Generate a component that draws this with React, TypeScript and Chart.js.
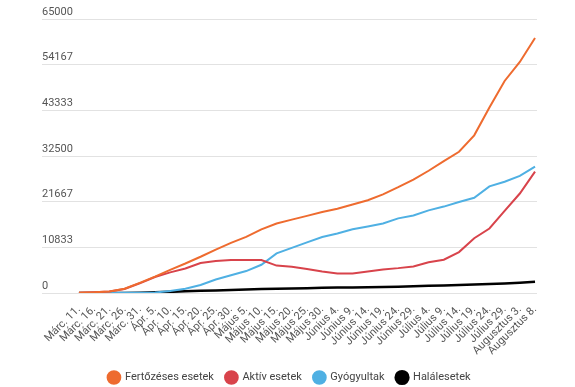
import React, { useEffect, useRef } from "react";
import { Chart, registerables } from "chart.js";

Chart.register(...registerables);

const dateLabels = [
  "Márc. 11.", "Márc. 16.", "Márc. 21.", "Márc. 26.", "Márc. 31.",
  "Ápr. 5.", "Ápr. 10.", "Ápr. 15.", "Ápr. 20.", "Ápr. 25.", "Ápr. 30.",
  "Május 5.", "Május 10.", "Május 15.", "Május 20.", "Május 25.", "Május 30.",
  "Június 4.", "Június 9.", "Június 14.", "Június 19.", "Június 24.", "Június 29.",
  "Július 4.", "Július 9.", "Július 14.", "Július 19.", "Július 24.", "Július 29.",
  "Augusztus 3.", "Augusztus 8.",
];

const fertozeses = [
  50, 170, 370, 1000, 2400, 3900, 5500, 7000, 8600, 10300, 11900,
  13300, 15100, 16500, 17400, 18300, 19200, 20000, 21000, 22000, 23400,
  25100, 26900, 29000, 31300, 33500, 37400, 44000, 50300, 54800, 60500,
];
const aktiv = [
  50, 170, 360, 950, 2300, 3800, 4900, 5800, 7100, 7600, 7800,
  7800, 7800, 6500, 6200, 5700, 5100, 4600, 4600, 5100, 5600,
  5900, 6300, 7300, 7900, 9700, 13000, 15300, 19500, 23600, 28800,
];
const gyogyultak = [
  0, 0, 10, 30, 60, 100, 500, 1000, 1900, 3200, 4200,
  5200, 6700, 9400, 10700, 12000, 13300, 14100, 15100, 15800, 16500,
  17700, 18400, 19600, 20500, 21600, 22600, 25300, 26400, 27800, 30000,
];
const halalesetek = [
  0, 0, 5, 20, 70, 150, 270, 400, 520, 620, 720,
  830, 920, 1000, 1080, 1150, 1220, 1280, 1330, 1380, 1430,
  1500, 1600, 1700, 1800, 1900, 2000, 2120, 2260, 2420, 2650,
];

const yTickValues = [0, 10833, 21667, 32500, 43333, 54167, 65000];

const seriesNames = ["Fertőzéses esetek", "Aktív esetek", "Gyógyultak", "Halálesetek"];
const seriesColors = ["#ee6b2f", "#d8434b", "#4fb0e3", "#000000"];

export default function App() {
  const canvasRef = useRef<HTMLCanvasElement | null>(null);

  useEffect(() => {
    document.body.style.margin = "0";
    const ctx = canvasRef.current!.getContext("2d")!;
    const allSeries = [fertozeses, aktiv, gyogyultak, halalesetek];
    const chart = new Chart(ctx, {
      type: "line",
      data: {
        datasets: allSeries.map((s, k) => ({
          label: seriesNames[k],
          data: s.map((v, i) => ({ x: i, y: v })),
          borderColor: seriesColors[k],
          backgroundColor: seriesColors[k],
          borderWidth: k === 3 ? 2.5 : 2,
          pointRadius: 0,
          pointHoverRadius: 0,
          tension: 0,
          fill: false,
        })),
      },
      options: {
        responsive: false,
        animation: false,
        layout: { padding: { left: 42, right: 38, top: 19, bottom: -6 } },
        plugins: {
          tooltip: { enabled: false },
          legend: {
            position: "bottom",
            labels: {
              usePointStyle: true,
              pointStyle: "circle",
              boxHeight: 9,
              boxWidth: 11,
              padding: 12,
              color: "#444",
              font: { family: "Roboto", size: 11 },
            },
          },
        },
        scales: {
          x: {
            type: "linear",
            min: -2.43,
            max: 30.13,
            grid: { display: false },
            border: { display: false },
            afterBuildTicks: (scale: any) => {
              scale.ticks = dateLabels.map((_, i) => ({ value: i }));
            },
            afterFit: (scale: any) => {
              scale.height = 67;
            },
            ticks: {
              autoSkip: false,
              minRotation: 45,
              maxRotation: 45,
              padding: 2,
              color: "#555",
              font: { family: "Roboto", size: 11 },
              callback: (v: any) => dateLabels[v as number] ?? "",
            },
          },
          y: {
            min: 0,
            max: 65000,
            border: { display: false },
            grid: { color: "#e2e2e2", lineWidth: 1, drawTicks: false },
            afterBuildTicks: (scale: any) => {
              scale.ticks = yTickValues.map((v) => ({ value: v }));
            },
            afterFit: (scale: any) => {
              scale.width = 0;
            },
            ticks: {
              mirror: true,
              padding: 0,
              labelOffset: -7,
              color: "#555",
              font: { family: "Roboto", size: 11 },
              callback: (v: any) => String(v),
            },
          },
        },
      },
    });
    return () => chart.destroy();
  }, []);

  return (
    <div style={{ position: "absolute", left: 0, top: 0, width: 575, height: 387 }}>
      <canvas ref={canvasRef} width={575} height={387} style={{ width: 575, height: 387 }} />
    </div>
  );
}
